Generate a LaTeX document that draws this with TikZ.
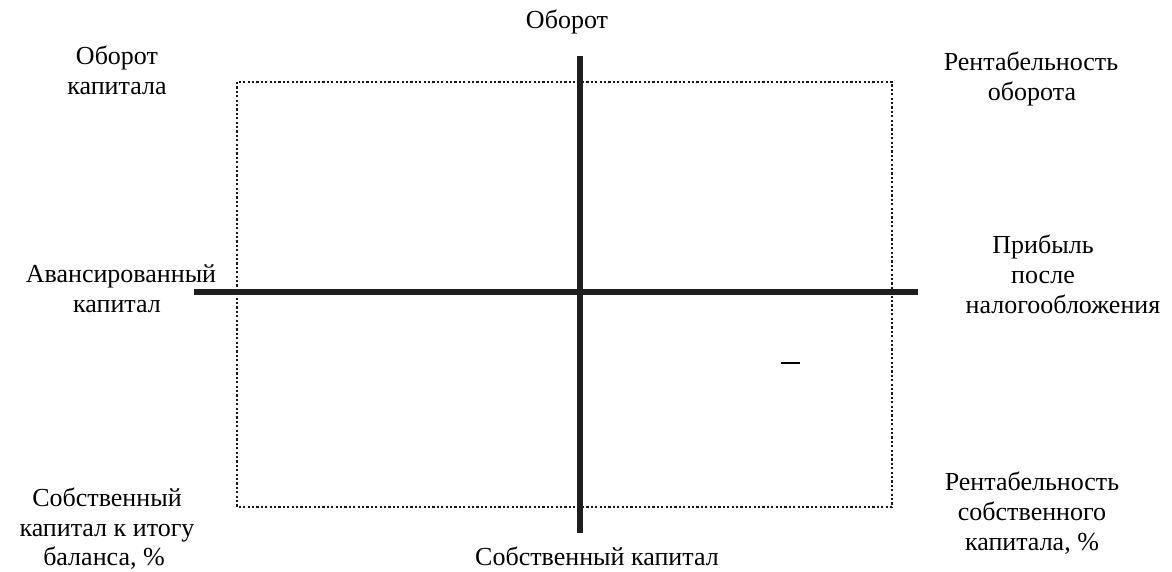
\documentclass[tikz,border=0pt]{standalone}
\usepackage{fontspec}
\setmainfont{Liberation Serif}
\begin{document}
\begin{tikzpicture}[x=1pt,y=-1pt,
  lbl/.style={anchor=base,inner sep=0pt,font=\fontsize{26}{30}\selectfont},
  axis/.style={line width=5.5pt,color=black!88},
  frame/.style={line width=2.4pt,dash pattern=on 2.2pt off 2.2pt,color=black!90}]
\useasboundingbox (0,0) rectangle (1172,572);
% dotted frame
\coordinate (fTL) at (237,82);
\coordinate (fBR) at (892,507);
\draw[frame] (fTL) rectangle (fBR);
% axes
\coordinate (vT) at (580,56);
\coordinate (vB) at (580,533);
\coordinate (hL) at (194,292);
\coordinate (hR) at (918,292);
\draw[axis] (vT) -- (vB);
\draw[axis] (hL) -- (hR);
% small dash
\coordinate (dA) at (781,363);
\coordinate (dB) at (800,363);
\draw[line width=1.6pt] (dA) -- (dB);
% labels
\node[lbl] (top) at (567,29) {Оборот};
\node[lbl] (tl1) at (117,65) {Оборот};
\node[lbl] (tl2) at (117,95) {капитала};
\node[lbl] (tr1) at (1031,71) {Рентабельность};
\node[lbl] (tr2) at (1032,101) {оборота};
\node[lbl] (ml1) at (121,282) {Авансированный};
\node[lbl] (ml2) at (117,312) {капитал};
\node[lbl] (mr1) at (1043,253) {Прибыль};
\node[lbl] (mr2) at (1043,283) {после};
\node[lbl] (mr3) at (1063,313) {налогообложения};
\node[lbl] (bl1) at (107,506) {Собственный};
\node[lbl] (bl2) at (107,536) {капитал к итогу};
\node[lbl] (bl3) at (104,565) {баланса, \%};
\node[lbl] (br1) at (1032,490) {Рентабельность};
\node[lbl] (br2) at (1032,520) {собственного};
\node[lbl] (br3) at (1032,550) {капитала, \%};
\node[lbl] (bot) at (597,565) {Собственный капитал};
\end{tikzpicture}
\end{document}
